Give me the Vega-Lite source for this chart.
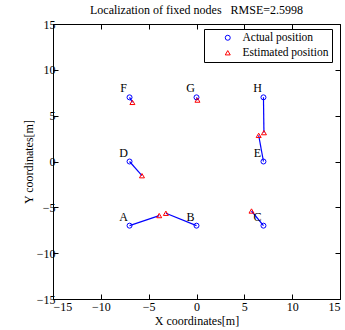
{
  "$schema": "https://vega.github.io/schema/vega-lite/v6.json",
  "width": 287,
  "height": 275,
  "autosize": "none",
  "padding": {"left": 53, "top": 24, "right": 5, "bottom": 31},
  "background": "white",
  "title": {
    "text": "Localization of fixed nodes\u00a0\u00a0 RMSE=2.5998",
    "font": "Liberation Serif",
    "fontSize": 12,
    "fontWeight": "normal",
    "color": "black",
    "anchor": "middle",
    "offset": 1
  },
  "config": {
    "view": {"stroke": "black", "strokeWidth": 1},
    "axis": {
      "grid": false,
      "domainColor": "black",
      "tickColor": "black",
      "tickSize": -5,
      "labelFont": "Liberation Serif",
      "labelFontSize": 12,
      "labelColor": "black",
      "labelOverlap": false,
      "titleFont": "Liberation Serif",
      "titleFontSize": 12,
      "titleFontWeight": "normal",
      "titleColor": "black"
    }
  },
  "data": {
    "values": [
      {"node": "A", "kind": "Actual position", "x": -7, "y": -7},
      {"node": "B", "kind": "Actual position", "x": 0, "y": -7},
      {"node": "C", "kind": "Actual position", "x": 7, "y": -7},
      {"node": "D", "kind": "Actual position", "x": -7, "y": 0},
      {"node": "E", "kind": "Actual position", "x": 7, "y": 0},
      {"node": "F", "kind": "Actual position", "x": -7, "y": 7},
      {"node": "G", "kind": "Actual position", "x": 0, "y": 7},
      {"node": "H", "kind": "Actual position", "x": 7, "y": 7},
      {"node": "A", "kind": "Estimated position", "x": -3.9, "y": -5.9},
      {"node": "B", "kind": "Estimated position", "x": -3.2, "y": -5.65},
      {"node": "C", "kind": "Estimated position", "x": 5.75, "y": -5.4},
      {"node": "D", "kind": "Estimated position", "x": -5.7, "y": -1.55},
      {"node": "E", "kind": "Estimated position", "x": 6.5, "y": 2.85},
      {"node": "F", "kind": "Estimated position", "x": -6.7, "y": 6.45},
      {"node": "G", "kind": "Estimated position", "x": 0.1, "y": 6.7},
      {"node": "H", "kind": "Estimated position", "x": 7.05, "y": 3.15}
    ]
  },
  "resolve": {"axis": {"x": "independent", "y": "independent"}},
  "layer": [
    {
      "mark": {"type": "line", "color": "blue", "strokeWidth": 1.2},
      "encoding": {
        "x": {
          "field": "x", "type": "quantitative",
          "scale": {"domain": [-15, 15], "nice": false},
          "axis": {"orient": "bottom", "values": [-15, -10, -5, 0, 5, 10, 15], "title": "X coordinates[m]", "labelPadding": 7, "titlePadding": 3}
        },
        "y": {
          "field": "y", "type": "quantitative",
          "scale": {"domain": [-15, 15], "nice": false},
          "axis": {"orient": "left", "values": [-15, -10, -5, 0, 5, 10, 15], "title": "Y coordinates[m]", "labelPadding": 3, "titleX": -18}
        },
        "detail": {"field": "node"}
      }
    },
    {
      "mark": {"type": "point", "filled": false, "strokeWidth": 1, "size": 25, "opacity": 1},
      "encoding": {
        "x": {
          "field": "x", "type": "quantitative",
          "axis": {"orient": "top", "values": [-15, -10, -5, 0, 5, 10, 15], "labels": false, "title": null, "domain": false}
        },
        "y": {
          "field": "y", "type": "quantitative",
          "axis": {"orient": "right", "values": [-15, -10, -5, 0, 5, 10, 15], "labels": false, "title": null, "domain": false}
        },
        "shape": {
          "field": "kind", "type": "nominal",
          "scale": {"domain": ["Actual position", "Estimated position"], "range": ["circle", "triangle-up"]},
          "legend": {
            "orient": "none", "legendX": 151, "legendY": 5, "title": null,
            "strokeColor": "black", "fillColor": "white", "padding": 3,
            "symbolOffset": 15, "labelOffset": 9, "rowPadding": 2,
            "labelFont": "Liberation Serif", "labelFontSize": 11.5, "labelColor": "black",
            "symbolSize": 25, "symbolStrokeWidth": 1
          }
        },
        "color": {
          "field": "kind", "type": "nominal",
          "scale": {"domain": ["Actual position", "Estimated position"], "range": ["blue", "red"]},
          "legend": {
            "orient": "none", "legendX": 151, "legendY": 5, "title": null,
            "strokeColor": "black", "fillColor": "white", "padding": 3,
            "symbolOffset": 15, "labelOffset": 9, "rowPadding": 2,
            "labelFont": "Liberation Serif", "labelFontSize": 11.5, "labelColor": "black",
            "symbolSize": 25, "symbolStrokeWidth": 1
          }
        }
      }
    },
    {
      "transform": [{"filter": "datum.kind === 'Actual position'"}],
      "mark": {"type": "text", "dx": -6, "dy": -9, "align": "center", "baseline": "middle", "font": "Liberation Serif", "fontSize": 12, "color": "black"},
      "encoding": {
        "x": {"field": "x", "type": "quantitative", "axis": null},
        "y": {"field": "y", "type": "quantitative", "axis": null},
        "text": {"field": "node"}
      }
    }
  ]
}
